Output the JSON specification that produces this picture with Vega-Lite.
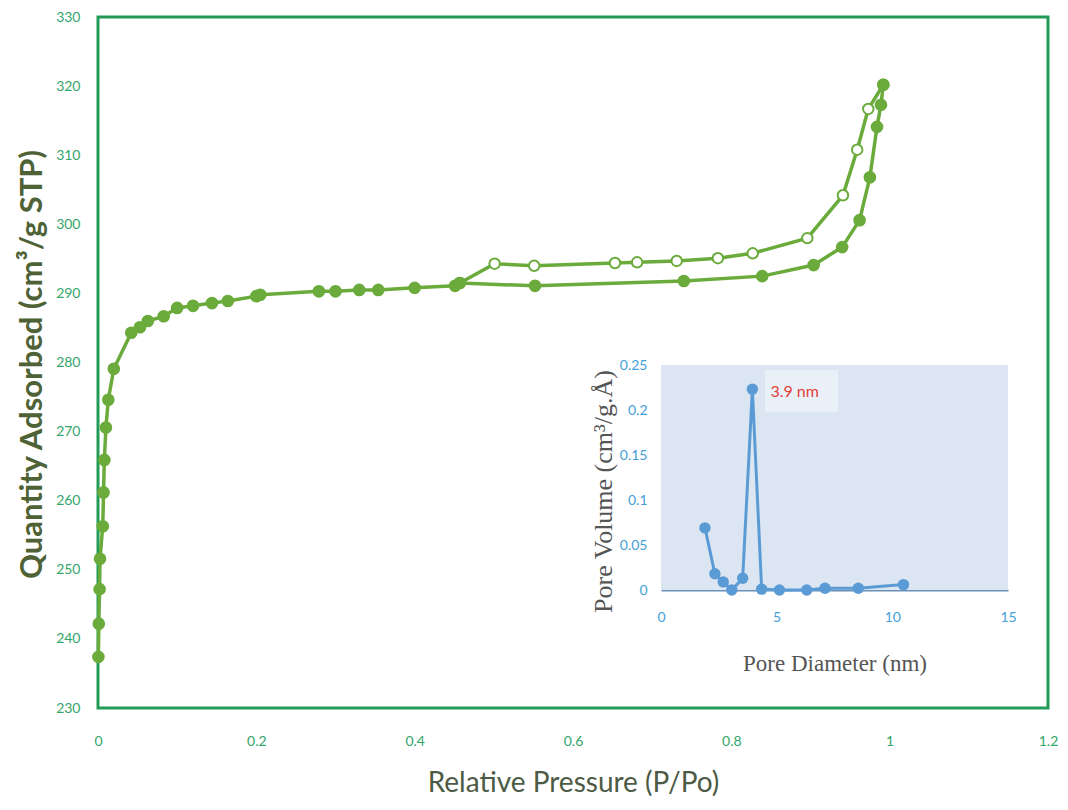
{
  "$schema": "https://vega.github.io/schema/vega-lite/v6.json",
  "width": 950,
  "height": 691,
  "autosize": {"type": "none"},
  "padding": {"left": 98, "top": 17, "right": 20, "bottom": 102},
  "background": "white",
  "view": {"stroke": "#239b56", "strokeWidth": 3},
  "datasets": {
    "iso": [
      {"p": 0.0005, "q": 237.4, "branch": "adsorption"},
      {"p": 0.001, "q": 242.2, "branch": "adsorption"},
      {"p": 0.002, "q": 247.2, "branch": "adsorption"},
      {"p": 0.0025, "q": 251.6, "branch": "adsorption"},
      {"p": 0.006, "q": 256.3, "branch": "adsorption"},
      {"p": 0.007, "q": 261.2, "branch": "adsorption"},
      {"p": 0.008, "q": 265.9, "branch": "adsorption"},
      {"p": 0.010, "q": 270.6, "branch": "adsorption"},
      {"p": 0.013, "q": 274.6, "branch": "adsorption"},
      {"p": 0.020, "q": 279.1, "branch": "adsorption"},
      {"p": 0.042, "q": 284.3, "branch": "adsorption"},
      {"p": 0.053, "q": 285.1, "branch": "adsorption"},
      {"p": 0.063, "q": 286.0, "branch": "adsorption"},
      {"p": 0.083, "q": 286.7, "branch": "adsorption"},
      {"p": 0.100, "q": 287.9, "branch": "adsorption"},
      {"p": 0.120, "q": 288.2, "branch": "adsorption"},
      {"p": 0.144, "q": 288.6, "branch": "adsorption"},
      {"p": 0.164, "q": 288.9, "branch": "adsorption"},
      {"p": 0.200, "q": 289.6, "branch": "adsorption"},
      {"p": 0.205, "q": 289.8, "branch": "adsorption"},
      {"p": 0.279, "q": 290.3, "branch": "adsorption"},
      {"p": 0.300, "q": 290.3, "branch": "adsorption"},
      {"p": 0.330, "q": 290.5, "branch": "adsorption"},
      {"p": 0.354, "q": 290.5, "branch": "adsorption"},
      {"p": 0.400, "q": 290.8, "branch": "adsorption"},
      {"p": 0.451, "q": 291.1, "branch": "adsorption"},
      {"p": 0.457, "q": 291.5, "branch": "adsorption"},
      {"p": 0.552, "q": 291.1, "branch": "adsorption"},
      {"p": 0.740, "q": 291.8, "branch": "adsorption"},
      {"p": 0.839, "q": 292.5, "branch": "adsorption"},
      {"p": 0.904, "q": 294.1, "branch": "adsorption"},
      {"p": 0.940, "q": 296.7, "branch": "adsorption"},
      {"p": 0.962, "q": 300.6, "branch": "adsorption"},
      {"p": 0.975, "q": 306.8, "branch": "adsorption"},
      {"p": 0.984, "q": 314.1, "branch": "adsorption"},
      {"p": 0.989, "q": 317.3, "branch": "adsorption"},
      {"p": 0.992, "q": 320.2, "branch": "adsorption"},
      {"p": 0.992, "q": 320.2, "branch": "desorption"},
      {"p": 0.973, "q": 316.7, "branch": "desorption"},
      {"p": 0.959, "q": 310.8, "branch": "desorption"},
      {"p": 0.941, "q": 304.2, "branch": "desorption"},
      {"p": 0.896, "q": 298.0, "branch": "desorption"},
      {"p": 0.827, "q": 295.8, "branch": "desorption"},
      {"p": 0.783, "q": 295.1, "branch": "desorption"},
      {"p": 0.731, "q": 294.7, "branch": "desorption"},
      {"p": 0.681, "q": 294.5, "branch": "desorption"},
      {"p": 0.653, "q": 294.4, "branch": "desorption"},
      {"p": 0.551, "q": 294.0, "branch": "desorption"},
      {"p": 0.501, "q": 294.3, "branch": "desorption"},
      {"p": 0.457, "q": 291.5, "branch": "desorption"}
    ],
    "psd": [
      {"d": 1.90, "v": 0.069},
      {"d": 2.33, "v": 0.018},
      {"d": 2.69, "v": 0.009},
      {"d": 3.06, "v": 0.0},
      {"d": 3.53, "v": 0.013},
      {"d": 3.95, "v": 0.223},
      {"d": 4.35, "v": 0.001},
      {"d": 5.12, "v": 0.0},
      {"d": 6.30, "v": 0.0},
      {"d": 7.09, "v": 0.002},
      {"d": 8.53, "v": 0.002},
      {"d": 10.48, "v": 0.006}
    ]
  },
  "layer": [
    {
      "layer": [
        {
          "data": {"name": "iso"},
          "mark": {"type": "line", "color": "#6aab3c", "strokeWidth": 3.5},
          "encoding": {
            "x": {
              "field": "p", "type": "quantitative",
              "scale": {"domain": [0, 1.2], "nice": false, "zero": false},
              "axis": {
                "orient": "bottom", "values": [0, 0.2, 0.4, 0.6, 0.8, 1, 1.2], "format": "~g",
                "grid": false, "ticks": false, "domain": false, "labelFlush": false,
                "labelFont": "Lato", "labelFontSize": 14, "labelColor": "#33a56a", "labelPadding": 26,
                "title": "Relative Pressure (P/Po)", "titleFont": "Lato", "titleFontSize": 28,
                "titleFontWeight": "normal", "titleColor": "#4d5a45", "titleY": 75, "titleBaseline": "middle"
              }
            },
            "y": {
              "field": "q", "type": "quantitative",
              "scale": {"domain": [230, 330], "nice": false, "zero": false},
              "axis": {
                "orient": "left", "values": [230, 240, 250, 260, 270, 280, 290, 300, 310, 320, 330],
                "grid": false, "ticks": false, "domain": false, "labelFlush": false,
                "labelFont": "Lato", "labelFontSize": 14, "labelColor": "#33a56a", "labelPadding": 18,
                "title": "Quantity Adsorbed (cm³/g STP)", "titleFont": "Lato", "titleFontSize": 31,
                "titleFontWeight": "bold", "titleColor": "#4e6236", "titleX": -66, "titleY": 347,
                "titleBaseline": "middle"
              }
            },
            "detail": {"field": "branch", "type": "nominal"}
          }
        },
        {
          "data": {"name": "iso"},
          "transform": [{"filter": "datum.branch == 'desorption'"}],
          "mark": {"type": "point", "shape": "circle", "filled": true, "fill": "white", "stroke": "#6aab3c", "strokeWidth": 2, "size": 110, "opacity": 1},
          "encoding": {
            "x": {"field": "p", "type": "quantitative"},
            "y": {"field": "q", "type": "quantitative"}
          }
        },
        {
          "data": {"name": "iso"},
          "transform": [{"filter": "datum.branch == 'adsorption'"}],
          "mark": {"type": "circle", "color": "#6aab3c", "size": 160, "opacity": 1},
          "encoding": {
            "x": {"field": "p", "type": "quantitative"},
            "y": {"field": "q", "type": "quantitative"}
          }
        }
      ]
    },
    {
      "layer": [
        {
          "data": {"name": "psd"},
          "mark": {"type": "rect", "color": "#dce6f2"},
          "encoding": {
            "x": {"datum": 0, "type": "quantitative",
              "scale": {"domain": [0, 15], "range": [563, 910], "nice": false, "zero": false},
              "axis": {
                "orient": "bottom", "offset": -118, "values": [0, 5, 10, 15], "format": "~g", "labelFlush": false,
                "grid": false, "ticks": false, "domain": true, "domainColor": "#6b8fb8", "domainWidth": 2,
                "labelFont": "Lato", "labelFontSize": 14, "labelColor": "#45a0d8", "labelPadding": 20,
                "title": "Pore Diameter (nm)", "titleFont": "Liberation Serif", "titleFontSize": 23,
                "titleFontWeight": "normal", "titleColor": "#555555", "titleY": 73, "titleBaseline": "middle"
              }},
            "x2": {"datum": 15},
            "y": {"datum": 0, "type": "quantitative",
              "scale": {"domain": [0, 0.25], "range": [573, 348], "nice": false, "zero": false},
              "axis": {
                "orient": "left", "offset": -563, "values": [0, 0.05, 0.1, 0.15, 0.2, 0.25], "format": "~g", "labelFlush": false,
                "grid": false, "ticks": false, "domain": false,
                "labelFont": "Lato", "labelFontSize": 14, "labelColor": "#45a0d8", "labelPadding": 14,
                "title": "Pore Volume (cm³/g.Å)", "titleFont": "Liberation Serif", "titleFontSize": 26,
                "titleFontWeight": "normal", "titleColor": "#555555", "titleX": -58, "titleY": 474,
                "titleBaseline": "middle"
              }},
            "y2": {"datum": 0.25}
          }
        },
        {
          "data": {"name": "psd"},
          "mark": {"type": "rect", "color": "#e9f0f8"},
          "encoding": {
            "x": {"datum": 4.5, "type": "quantitative"},
            "x2": {"datum": 7.65},
            "y": {"datum": 0.198, "type": "quantitative"},
            "y2": {"datum": 0.2437}
          }
        },
        {
          "data": {"name": "psd"},
          "mark": {"type": "line", "color": "#5b9bd5", "strokeWidth": 3},
          "encoding": {
            "x": {"field": "d", "type": "quantitative"},
            "y": {"field": "v", "type": "quantitative"}
          }
        },
        {
          "data": {"name": "psd"},
          "mark": {"type": "circle", "color": "#5b9bd5", "size": 130, "opacity": 1},
          "encoding": {
            "x": {"field": "d", "type": "quantitative"},
            "y": {"field": "v", "type": "quantitative"}
          }
        },
        {
          "data": {"name": "psd"},
          "transform": [{"filter": "datum.v > 0.2"}],
          "mark": {"type": "text", "align": "left", "baseline": "middle", "dx": 18, "dy": 3, "font": "Lato", "fontSize": 16, "color": "#e5413a"},
          "encoding": {
            "x": {"field": "d", "type": "quantitative"},
            "y": {"field": "v", "type": "quantitative"},
            "text": {"value": "3.9 nm"}
          }
        }
      ]
    }
  ],
  "resolve": {
    "scale": {"x": "independent", "y": "independent"},
    "axis": {"x": "independent", "y": "independent"}
  }
}
